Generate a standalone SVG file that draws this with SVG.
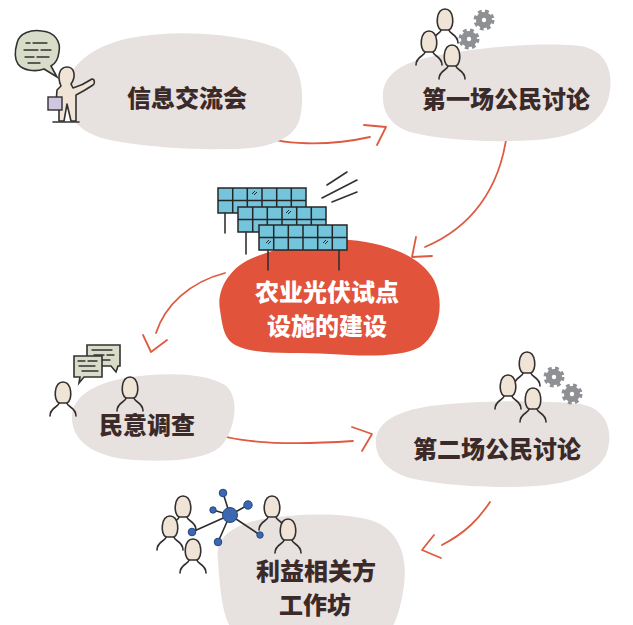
<svg xmlns="http://www.w3.org/2000/svg" width="633" height="625" viewBox="0 0 633 625">
  <style>
    .blob { fill: #e7e1df; }
    .hot { fill: #e1533a; }
    .lbl { font-family: "Noto Sans CJK SC", "Noto Sans", sans-serif; font-weight: 900; font-size: 24px; fill: #3b2a28; text-anchor: middle; dominant-baseline: central; }
    .lbl-w { fill: #ffffff; }
    .conn { fill: none; stroke: #de5a40; stroke-width: 1.8; stroke-linecap: round; stroke-linejoin: round; }
    .ink { stroke: #333030; stroke-width: 1.6; stroke-linecap: round; stroke-linejoin: round; }
    .skin { fill: #efe4d5; }
    .cell { fill: #74c4dc; stroke: #262626; stroke-width: 1.5; }
    .gear { fill: #8e9093; stroke: #8e9093; }
    .node { fill: #3c68b2; stroke: #24477f; stroke-width: 1; }
    .link { stroke: #2c2c2c; stroke-width: 1.6; }
    .paper { fill: #d8ddca; stroke: #333030; stroke-width: 1.6; }
    .txtline { stroke: #333030; stroke-width: 1.3; stroke-linecap: round; }
  </style>
  <defs>
    <!-- generic person: head and shoulders -->
    <g id="person">
      <path class="ink skin" d="M-4,9 C-10,6 -9,-12 0,-12 C9,-12 10,6 4,9 Z"/>
      <path class="ink" fill="none" d="M-4,9 C-4,13 -13,13 -13,22 M4,9 C4,13 13,13 13,22"/>
    </g>
    <!-- gear -->
    <g id="gear">
      <circle class="gear" r="8" stroke-width="5" stroke-dasharray="3.4 3"/>
      <circle r="7.5" fill="#8e9093"/>
      <circle r="2.2" fill="#ffffff"/>
    </g>
    <!-- solar panel, 6 x 2 cells -->
    <g id="panel">
      <rect class="cell" x="0" y="0" width="88" height="25"/>
      <path d="M14.7,0 V25 M29.3,0 V25 M44,0 V25 M58.7,0 V25 M73.3,0 V25 M0,12.5 H88" stroke="#262626" stroke-width="1.5" fill="none"/>
    </g>
    <path id="glint" d="M0,3 L3,0 M2,4 L5,1" stroke="#262626" stroke-width="1" fill="none"/>
  </defs>

  <!-- connectors -->
  <g id="connectors">
    <path class="conn" d="M253,133 C280,146 330,146 370,137"/>
    <path class="conn" d="M364,125 L386,127 L377,145"/>
    <path class="conn" d="M507,133 C500,190 470,228 425,247"/>
    <path class="conn" d="M416,237 L412,257 L432,256"/>
    <path class="conn" d="M225,273 C190,282 165,305 156,333"/>
    <path class="conn" d="M143,335 L151,352 L167,340"/>
    <path class="conn" d="M205,430 C240,446 310,444 353,441"/>
    <path class="conn" d="M352,427 L372,434 L362,451"/>
    <path class="conn" d="M490,502 C478,520 465,533 442,545"/>
    <path class="conn" d="M434,535 L422,550 L441,558"/>
  </g>

  <!-- info session -->
  <g id="node-info">
    <path class="blob" d="M66,98 C62,70 90,46 130,38 C175,29 235,33 275,47 C300,57 306,90 300,118 C294,142 262,150 225,149 C185,150 140,146 110,140 C82,134 68,120 66,98 Z"/>
    <text class="lbl" x="187" y="96">信息交流会</text>
    <!-- speech bubble -->
    <path class="paper" d="M17,43 C19,33 32,29 42,31 C55,32 61,42 59,52 C58,60 55,64 51,66 L57,77 L44,69 C36,72 23,71 18,64 C14,58 15,50 17,43 Z"/>
    <path class="txtline" d="M26,43 H30 M33,43 H47 M24,50 H38 M41,50 H51 M25,57 H34 M37,57 H49 M28,63 H40"/>
    <!-- presenter -->
    <path class="ink skin" d="M61,86 C57,77 59,67 67,67 C75,67 76,77 71,84 L73,88 C80,86 86,83 92,79 C95,79 95,84 93,85 C87,89 80,93 76,95 L76,121 L71,121 L67,104 L64,121 L59,121 L59,103 L56,103 L57,90 Z"/>
    <rect x="48" y="97" width="14" height="13" fill="#cfc6df" stroke="#333030" stroke-width="1.4"/>
    <path class="ink" d="M53,122 H79" fill="none"/>
  </g>

  <!-- first public discussion -->
  <g id="node-discussion-1">
    <path class="blob" d="M383,100 C381,75 400,62 440,55 C490,46 545,42 580,46 C608,50 615,75 608,100 C600,126 572,138 535,140 C490,143 440,140 410,132 C392,126 384,114 383,100 Z"/>
    <use href="#person" x="445" y="21"/>
    <use href="#person" x="429" y="43"/>
    <use href="#gear" x="484" y="20"/>
    <use href="#gear" x="469" y="39"/>
    <use href="#person" x="452" y="57"/>
    <text class="lbl" x="506" y="97">第一场公民讨论</text>
  </g>

  <!-- agri-PV pilot construction -->
  <g id="node-pilot">
    <path class="hot" d="M220,310 C216,290 230,266 255,257 C285,245 320,238 350,240 C385,243 420,255 434,280 C446,305 438,335 420,347 C400,358 360,356 330,354 C290,352 250,356 232,343 C223,336 222,322 220,310 Z"/>
    <use href="#panel" x="218" y="188"/>
    <path class="ink" d="M225,213 V233" fill="none"/>
    <use href="#panel" x="238" y="207"/>
    <path class="ink" d="M246,232 V254" fill="none"/>
    <use href="#panel" x="259" y="225"/>
    <path class="ink" d="M268,250 V270 M339,250 V270" fill="none"/>
    <use href="#glint" x="252" y="191"/>
    <use href="#glint" x="286" y="210"/>
    <use href="#glint" x="266" y="240"/>
    <use href="#glint" x="323" y="240"/>
    <path class="ink" d="M327,185 L347,172 M322,198 L357,180 M332,202 L357,192" fill="none"/>
    <text class="lbl lbl-w" x="327" y="290">农业光伏试点</text>
    <text class="lbl lbl-w" x="327" y="324">设施的建设</text>
  </g>

  <!-- opinion survey -->
  <g id="node-survey">
    <path class="blob" d="M72,420 C70,398 92,384 125,378 C160,372 205,372 225,385 C240,396 236,428 222,445 C208,460 170,462 135,460 C100,458 74,445 72,420 Z"/>
    <path class="paper" d="M87,345 H120 V366 H118 L116,372 L111,366 H87 Z"/>
    <path class="txtline" d="M92,350 H112 M94,355 H104 M107,355 H114 M92,360 H110"/>
    <path class="paper" d="M74,356 H102 V377 H84 L79,383 L80,377 H74 Z"/>
    <path class="txtline" d="M78,361 H85 M88,361 H97 M79,366 H95 M82,371 H98"/>
    <use href="#person" x="63" y="394"/>
    <use href="#person" x="130" y="389"/>
    <text class="lbl" x="147" y="423">民意调查</text>
  </g>

  <!-- second public discussion -->
  <g id="node-discussion-2">
    <path class="blob" d="M376,445 C374,425 392,412 430,406 C480,400 540,400 580,404 C606,408 614,430 607,452 C600,472 572,484 535,486 C490,489 440,485 410,478 C390,472 377,460 376,445 Z"/>
    <use href="#person" x="527" y="364"/>
    <use href="#person" x="508" y="387"/>
    <use href="#gear" x="554" y="377"/>
    <use href="#gear" x="572" y="394"/>
    <use href="#person" x="533" y="400"/>
    <text class="lbl" x="497" y="447">第二场公民讨论</text>
  </g>

  <!-- stakeholder workshop -->
  <g id="node-workshop">
    <path class="blob" d="M218,560 C214,535 238,522 270,518 C300,514 340,512 370,520 C398,528 408,555 404,585 C401,608 395,625 390,630 L232,630 C222,615 220,590 218,560 Z"/>
    <path class="link" d="M230,515 L223,493 M230,515 L248,505 M230,515 L213,510 M230,515 L192,532 M230,515 L218,542 M230,515 L260,535" fill="none"/>
    <circle class="node" cx="223" cy="493" r="3.8"/>
    <circle class="node" cx="248" cy="505" r="4.2"/>
    <circle class="node" cx="213" cy="510" r="3.2"/>
    <circle class="node" cx="192" cy="532" r="3.8"/>
    <circle class="node" cx="218" cy="542" r="3.8"/>
    <circle class="node" cx="260" cy="535" r="3.2"/>
    <circle class="node" cx="230" cy="515" r="7.5"/>
    <use href="#person" x="183" y="508"/>
    <use href="#person" x="170" y="528"/>
    <use href="#person" x="193" y="551"/>
    <use href="#person" x="272" y="508"/>
    <use href="#person" x="288" y="531"/>
    <text class="lbl" x="316" y="569">利益相关方</text>
    <text class="lbl" x="315" y="603">工作坊</text>
  </g>
</svg>
